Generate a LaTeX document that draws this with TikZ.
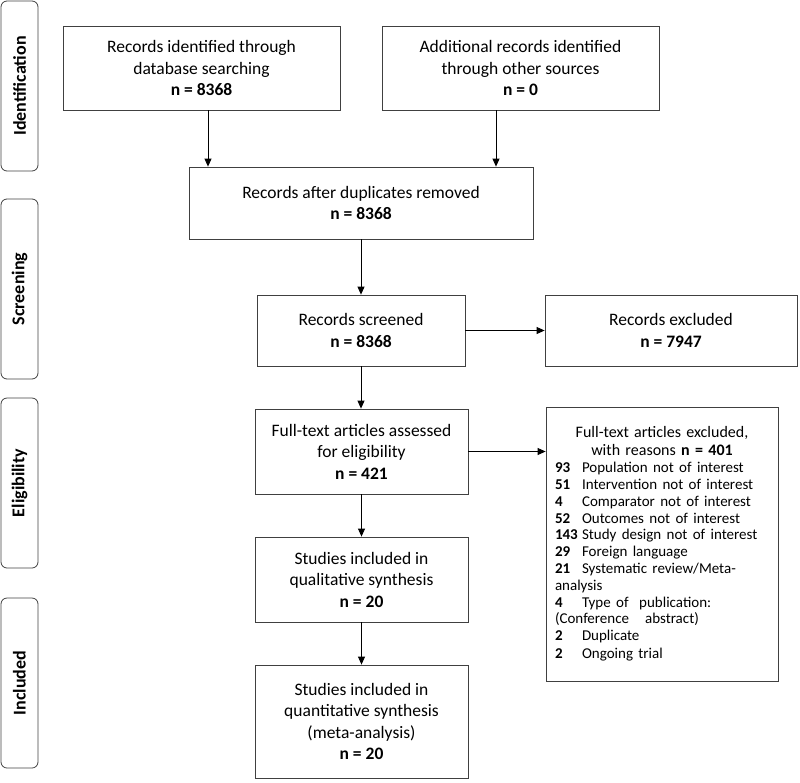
\documentclass[tikz,border=0pt]{standalone}
\usepackage{fontspec}
\setmainfont{Carlito}
\usetikzlibrary{arrows.meta}

\tikzset{
	box/.style={draw=black!75, line width=0.8pt, fill=white, align=center, inner sep=2pt,
		font=\fontsize{17.5}{21.5}\selectfont},
	phase/.style={draw=black!75, line width=0.8pt, rounded corners=6pt, rotate=90,
		minimum width=170pt, minimum height=37pt, inner sep=0pt,
		font=\fontsize{18}{20}\selectfont\bfseries},
	arr/.style={-{Triangle[length=8pt,width=7pt]}, line width=0.8pt}
}
\newcommand{\rsn}[1]{\makebox[27pt][l]{\bfseries #1}}

\begin{document}
\begin{tikzpicture}[x=1pt,y=-1pt]
					\useasboundingbox (0,0) rectangle (800,782);
					
					% Draw the phase labels on the left
					\node[phase] (ident) at (19.5,86) {Identification};
					\node[phase, minimum width=180pt] (screen) at (19.5,289) {Screening};
					\node[phase] (elig) at (19.5,483) {Eligibility};
					\node[phase] (incl) at (19.5,683) {Included};
					
					% Draw the boxes of the flow
					\node[box, minimum width=277pt, minimum height=84pt] (dbsearch) at (201.5,68)
						{Records identified through\\database searching\\\textbf{n = 8368}};
					\node[box, minimum width=277pt, minimum height=84pt] (othersrc) at (520.5,68)
						{Additional records identified\\through other sources\\\textbf{n = 0}};
					\node[box, minimum width=344pt, minimum height=72pt] (nodup) at (361,203)
						{Records after duplicates removed\\\textbf{n = 8368}};
					\node[box, minimum width=208pt, minimum height=71pt] (screened) at (361,330.5)
						{Records screened\\\textbf{n = 8368}};
					\node[box, minimum width=252pt, minimum height=71pt] (excluded) at (671,330.5)
						{Records excluded\\\textbf{n = 7947}};
					\node[box, minimum width=213pt, minimum height=85pt] (fulltext) at (361.5,451.5)
						{Full-text articles assessed\\for eligibility\\\textbf{n = 421}};
					\node[box, minimum width=232pt, minimum height=274pt, text width=214pt, align=left,
						inner xsep=9pt, font=\fontsize{16}{18}\selectfont] (ftexcl) at (662,544)
						{\centering Full-text articles excluded,\\with reasons \textbf{n = 401}\par
						\raggedright\fontsize{15}{16.8}\selectfont
						\rsn{93}Population not of interest\\
						\rsn{51}Intervention not of interest\\
						\rsn{4}Comparator not of interest\\
						\rsn{52}Outcomes not of interest\\
						\rsn{143}Study design not of interest\\
						\rsn{29}Foreign language\\
						\rsn{21}Systematic review/Meta-\\
						analysis\\
						\rsn{4}Type of\ \ publication:\\
						(Conference\ \ \ abstract)\\
						\rsn{2}Duplicate\\
						\rsn{2}Ongoing trial};
					\node[box, minimum width=213pt, minimum height=85pt] (qualsyn) at (361.5,579.5)
						{Studies included in\\qualitative synthesis\\\textbf{n = 20}};
					\node[box, minimum width=213pt, minimum height=113pt] (quantsyn) at (361.5,721.5)
						{Studies included in\\quantitative synthesis\\(meta-analysis)\\\textbf{n = 20}};
					
					% Draw the arrows between the boxes
					\draw[arr] ([xshift=6.5pt]dbsearch.south) -- ([xshift=6.5pt]dbsearch.south |- nodup.north);
					\draw[arr] ([xshift=-24.5pt]othersrc.south) -- ([xshift=-24.5pt]othersrc.south |- nodup.north);
					\draw[arr] (nodup.south) -- (screened.north);
					\draw[arr] (screened.east) -- (excluded.west);
					\draw[arr] (screened.south) -- (screened.south |- fulltext.north);
					\draw[arr] (fulltext.east) -- (fulltext.east -| ftexcl.west);
					\draw[arr] (fulltext.south) -- (qualsyn.north);
					\draw[arr] (qualsyn.south) -- (quantsyn.north);
				\end{tikzpicture}
\end{document}
